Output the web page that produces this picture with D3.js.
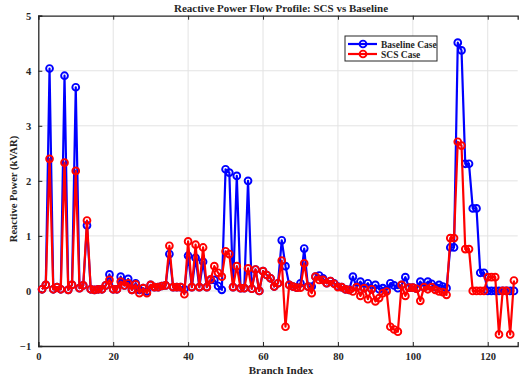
<!DOCTYPE html>
<html>
<head>
<meta charset="utf-8">
<script src="https://cdn.jsdelivr.net/npm/d3@7"></script>
<style>
  html, body { margin: 0; padding: 0; background: #fff; }
  svg { display: block; }
  text { font-family: "Liberation Serif", "Times New Roman", serif; font-weight: bold; fill: #262626; }
</style>
</head>
<body>
<script>
// Branch indices 1..127
const branchIndex = d3.range(1, 128);

// Reactive power per branch, baseline case (kVAR)
const baselineQ = [
  0.03, 0.11, 4.04, 0.03, 0.07, 0.03, 3.91, 0.02, 0.11, 3.70,
  0.05, 0.10, 1.19, 0.03, 0.02, 0.03, 0.03, 0.10, 0.30, 0.03,
  0.03, 0.26, 0.10, 0.22, 0.02, 0.14, 0.02, 0.05, -0.01, 0.11,
  0.07, 0.07, 0.09, 0.10, 0.67, 0.07, 0.07, 0.07, 0.03, 0.64,
  0.07, 0.60, 0.07, 0.53, 0.07, 0.20, 0.20, 0.09, 0.02, 2.21,
  2.15, 0.07, 2.09, 0.05, 0.05, 2.00, 0.04, 0.39, 0.00, 0.36,
  0.29, 0.23, 0.08, 0.14, 0.92, 0.45, 0.11, 0.08, 0.06, 0.14,
  0.77, 0.08, 0.08, 0.26, 0.28, 0.23, 0.14, 0.18, 0.14, 0.08,
  0.07, 0.03, 0.02, 0.26, 0.07, 0.17, 0.05, 0.14, 0.03, 0.11,
  0.03, 0.05, 0.02, 0.14, 0.10, 0.05, 0.11, 0.25, 0.06, 0.06,
  0.04, 0.17, 0.07, 0.17, 0.13, 0.07, 0.11, 0.08, 0.05, 0.79,
  0.79, 4.51, 4.37, 2.31, 2.31, 1.50, 1.50, 0.33, 0.33, 0.00,
  0.00, 0.00, 0.00, 0.00, 0.00, 0.00, 0.00
];

// Reactive power per branch, SCS case (kVAR)
const scsQ = [
  0.03, 0.11, 2.40, 0.03, 0.07, 0.03, 2.33, 0.02, 0.11, 2.18,
  0.05, 0.10, 1.28, 0.03, 0.02, 0.03, 0.03, 0.10, 0.20, 0.03,
  0.03, 0.17, 0.10, 0.14, 0.02, 0.12, -0.04, 0.05, -0.04, 0.11,
  0.07, 0.07, 0.09, 0.10, 0.82, 0.07, 0.07, 0.07, -0.06, 0.90,
  0.07, 0.84, 0.07, 0.79, 0.07, 0.21, 0.45, 0.33, 0.26, 0.72,
  0.67, 0.07, 0.45, 0.05, 0.05, 0.41, 0.04, 0.39, 0.00, 0.36,
  0.29, 0.23, 0.08, 0.14, 0.55, -0.65, 0.11, 0.08, 0.06, 0.06,
  0.50, 0.08, -0.04, 0.26, 0.20, 0.20, 0.14, 0.18, 0.13, 0.07,
  0.07, 0.03, 0.02, -0.01, 0.07, -0.09, 0.05, -0.15, 0.03, -0.19,
  -0.13, -0.04, -0.01, -0.65, -0.70, -0.74, 0.11, -0.09, 0.06, 0.06,
  0.04, -0.18, 0.07, 0.03, 0.07, 0.02, -0.01, -0.02, -0.07, 0.96,
  0.96, 2.71, 2.64, 0.76, 0.76, 0.00, 0.00, 0.00, 0.00, 0.25,
  0.25, 0.25, -0.79, 0.00, 0.00, -0.79, 0.19
];

const xTicks = [0, 20, 40, 60, 80, 100, 120];
const yTicks = [-1, 0, 1, 2, 3, 4, 5];
const seriesNames = ["Baseline Case", "SCS Case"];
const seriesColors = ["#0000ff", "#ff0000"];

const W = 519, H = 378;
const margin = { left: 38.3, top: 15.7, right: 1.3, bottom: 32 };
const innerW = W - margin.left - margin.right;
const innerH = H - margin.top - margin.bottom;

const svg = d3.select("body").append("svg").attr("width", W).attr("height", H);
const g = svg.append("g").attr("transform", `translate(${margin.left},${margin.top})`);

const x = d3.scaleLinear().domain([0, 128]).range([0, innerW]);
const y = d3.scaleLinear().domain([-1, 5]).range([innerH, 0]);

// grid
g.append("g").selectAll("line").data(xTicks.slice(1)).join("line")
  .attr("x1", d => x(d)).attr("x2", d => x(d)).attr("y1", 0).attr("y2", innerH)
  .attr("stroke", "#e3e3e3").attr("stroke-width", 1);
g.append("g").selectAll("line").data(yTicks.slice(1, -1)).join("line")
  .attr("x1", 0).attr("x2", innerW).attr("y1", d => y(d)).attr("y2", d => y(d))
  .attr("stroke", "#e3e3e3").attr("stroke-width", 1);

// axes
const axisColor = "#262626";
const xAxis = g.append("g").attr("transform", `translate(0,${innerH})`)
  .call(d3.axisBottom(x).tickValues(xTicks).tickSize(-4).tickPadding(7).tickFormat(d3.format("d")));
const xTop = g.append("g")
  .call(d3.axisTop(x).tickValues(xTicks).tickSize(-4).tickFormat(""));
const yAxis = g.append("g")
  .call(d3.axisLeft(y).tickValues(yTicks).tickSize(-4).tickPadding(7).tickFormat(d3.format("d")));
[xAxis, xTop, yAxis].forEach(a => {
  a.select(".domain").attr("stroke", axisColor).attr("stroke-width", 1.3);
  a.selectAll(".tick line").attr("stroke", axisColor);
  a.selectAll("text").attr("font-size", 10.5).attr("fill", axisColor)
    .attr("font-family", "Liberation Serif, serif").attr("font-weight", "bold");
});

// series
svg.append("clipPath").attr("id", "plotclip").append("rect")
  .attr("x", -6).attr("y", -6).attr("width", innerW + 12).attr("height", innerH + 12);

const seriesData = [baselineQ, scsQ];
const line = d3.line().x((d, i) => x(branchIndex[i])).y(d => y(d));
seriesData.forEach((vals, k) => {
  const s = g.append("g").attr("clip-path", "url(#plotclip)");
  s.append("path").datum(vals).attr("d", line)
    .attr("fill", "none").attr("stroke", seriesColors[k]).attr("stroke-width", 2.2)
    .attr("stroke-linejoin", "round");
  s.selectAll("circle").data(vals).join("circle")
    .attr("cx", (d, i) => x(branchIndex[i])).attr("cy", d => y(d)).attr("r", 3.4)
    .attr("fill", "none").attr("stroke", seriesColors[k]).attr("stroke-width", 1.9);
});

// title and axis labels
svg.append("text").attr("x", 281).attr("y", 12).attr("text-anchor", "middle")
  .attr("font-size", 11).text("Reactive Power Flow Profile: SCS vs Baseline");
svg.append("text").attr("x", 281).attr("y", 374).attr("text-anchor", "middle")
  .attr("font-size", 11).text("Branch Index");
svg.append("text").attr("transform", "translate(17,189) rotate(-90)").attr("text-anchor", "middle")
  .attr("font-size", 10.5).text("Reactive Power (kVAR)");

// legend
const lg = svg.append("g").attr("transform", "translate(345,36)");
lg.append("rect").attr("width", 92).attr("height", 25)
  .attr("fill", "#fff").attr("stroke", axisColor).attr("stroke-width", 1);
seriesNames.forEach((name, k) => {
  const yy = 8 + k * 10;
  lg.append("line").attr("x1", 3).attr("x2", 32).attr("y1", yy).attr("y2", yy)
    .attr("stroke", seriesColors[k]).attr("stroke-width", 2.2);
  lg.append("circle").attr("cx", 18).attr("cy", yy).attr("r", 3.4)
    .attr("fill", "none").attr("stroke", seriesColors[k]).attr("stroke-width", 1.9);
  lg.append("text").attr("x", 36).attr("y", yy + 3.5).attr("font-size", 9.5).text(name);
});
</script>
</body>
</html>
